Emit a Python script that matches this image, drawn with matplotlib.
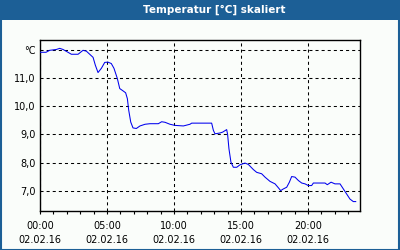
import matplotlib
matplotlib.use("Agg")
import matplotlib.pyplot as plt
from matplotlib.patches import Rectangle
from matplotlib.lines import Line2D

title = "Temperatur [°C] skaliert"
hours = [0.0, 0.45, 0.72, 1.22, 1.47, 1.72, 2.09, 2.34, 2.84, 3.21, 3.46, 3.71, 3.96,
         4.13, 4.33, 4.58, 4.83, 5.07, 5.32, 5.52, 5.77, 5.95, 6.19, 6.39, 6.52, 6.62,
         6.77, 6.94, 7.19, 7.46, 7.84, 8.21, 8.83, 9.08, 9.33, 9.70, 10.07, 10.7, 11.19,
         11.32, 12.81, 12.94, 13.06, 13.43, 13.63, 13.93, 14.0, 14.1, 14.25, 14.43, 14.68,
         14.93, 15.3, 15.55, 15.92, 16.17, 16.54, 16.79, 17.16, 17.54, 17.79, 17.96, 18.16,
         18.41, 18.61, 18.78, 19.03, 19.28, 19.53, 19.78, 20.02, 20.27, 20.4, 21.27, 21.44,
         21.72, 22.01, 22.39, 22.76, 23.13, 23.38, 23.56]
temps = [11.92, 11.92, 11.99, 12.02, 12.06, 12.02, 11.92, 11.85, 11.85, 11.99, 11.96, 11.85, 11.74,
         11.46, 11.2, 11.35, 11.56, 11.57, 11.52, 11.35, 10.99, 10.63, 10.55, 10.48, 10.27, 9.86,
         9.44, 9.23, 9.21, 9.3, 9.36, 9.38, 9.38, 9.45, 9.43, 9.36, 9.32, 9.3, 9.36,
         9.4, 9.4, 9.14, 9.02, 9.05, 9.08, 9.17, 9.0, 8.49, 8.01, 7.83, 7.83,
         7.92, 7.98, 7.93, 7.75, 7.65, 7.6, 7.48, 7.33, 7.24, 7.1, 7.0, 7.06,
         7.12, 7.3, 7.5, 7.48, 7.36, 7.27, 7.24, 7.18, 7.18, 7.27, 7.27, 7.21,
         7.3, 7.24, 7.24, 6.97, 6.7, 6.61, 6.61]
x_ticks = [0, 5, 10, 15, 20]
x_labels = ["00:00\n02.02.16", "05:00\n02.02.16", "10:00\n02.02.16",
            "15:00\n02.02.16", "20:00\n02.02.16"]
y_ticks = [7, 8, 9, 10, 11, 12]
y_labels = ["7,0", "8,0", "9,0", "10,0", "11,0", "°C"]

plt.rcParams['lines.scale_dashes'] = False
bg = '#fafdfa'
blue = '#1c5f96'
fig = plt.figure(figsize=(4, 2.5), dpi=100, facecolor=bg)

# title bar
fig.patches.append(Rectangle((0, 0.92), 1, 0.08, transform=fig.transFigure,
                             facecolor=blue, edgecolor='none', zorder=0))
fig.text(0.535, 0.96, title, color='white', fontsize=7.5, fontweight='bold',
         ha='center', va='center')
# frame border
for xs, ys in [([0.002, 0.002], [0, 0.92]), ([0.9975, 0.9975], [0, 0.92]), ([0, 1], [0.002, 0.002])]:
    fig.lines.append(Line2D(xs, ys, transform=fig.transFigure, color=blue, lw=1.5))

ax = fig.add_axes([0.1, 0.156, 0.8, 0.684])
ax.set_facecolor(bg)
ax.plot(hours, temps, color='#0000ee', lw=0.75, zorder=3)
ax.set_xlim(0, 23.88)
ax.set_ylim(6.275, 12.357)
ax.set_xticks(x_ticks)
ax.set_xticklabels(x_labels, fontsize=7, linespacing=1.55)
ax.set_xticks(range(0, 24), minor=True)
ax.set_yticks(y_ticks)
ax.set_yticklabels(y_labels, fontsize=7)
ax.tick_params(axis='x', which='both', direction='out', length=2, width=0.8, pad=5)
ax.tick_params(axis='y', length=0, pad=3)
ax.grid(True, which='major', color='black', lw=0.75, ls=(0, (2.2, 2.2)))
for s in ax.spines.values():
    s.set_linewidth(1.0)
    s.set_color('black')

fig.savefig("out.png", dpi=100, facecolor=bg)
